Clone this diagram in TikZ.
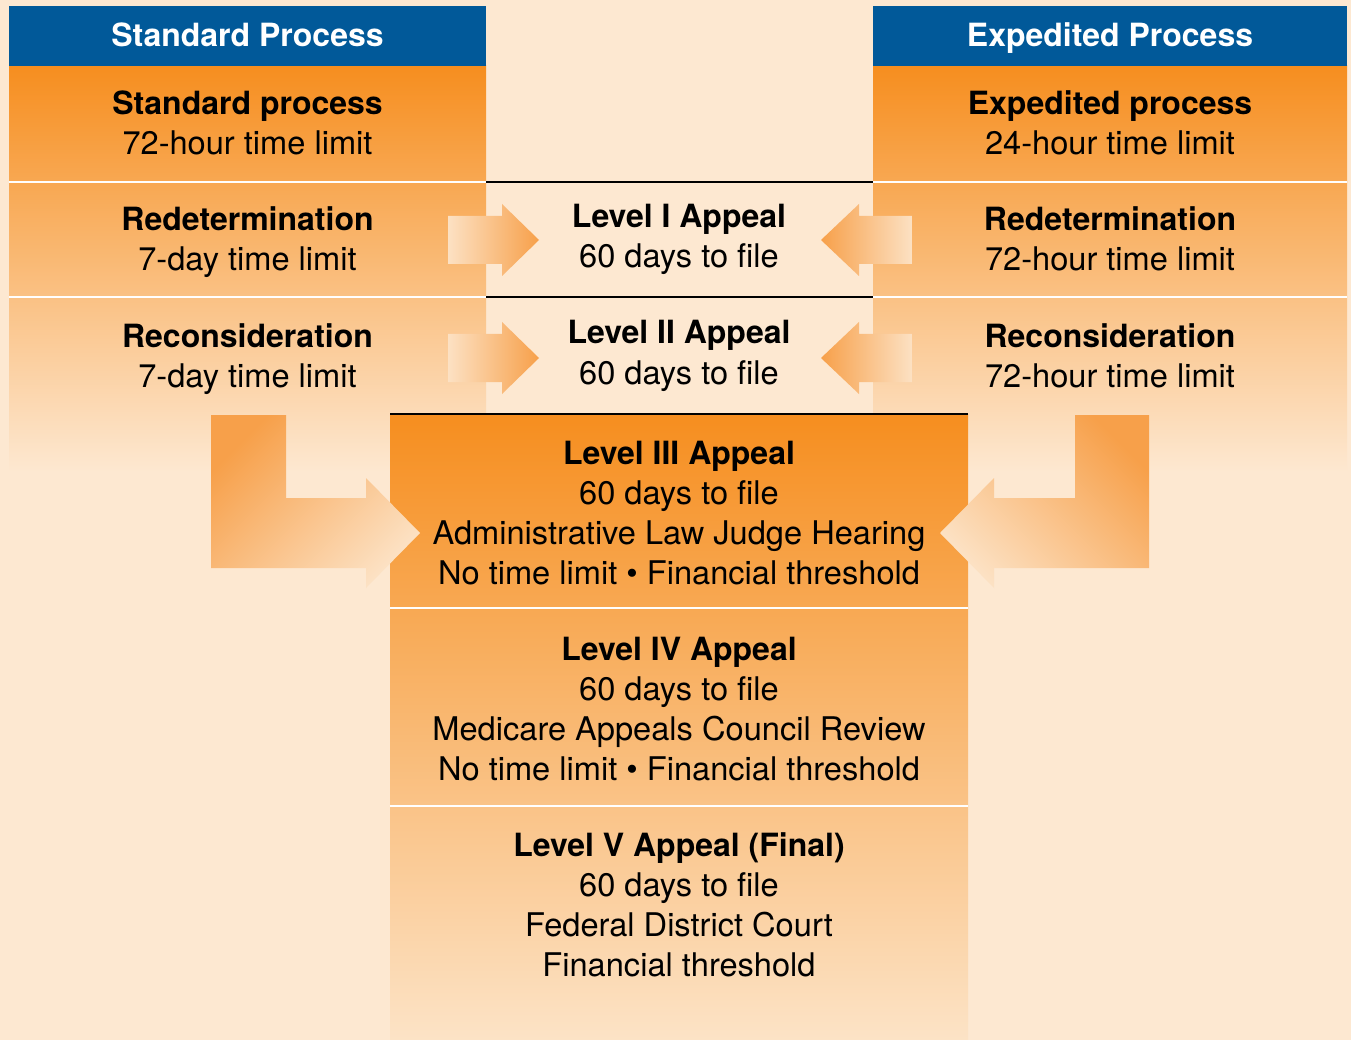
\documentclass[tikz,border=0pt]{standalone}
\usepackage{fontspec}
\setmainfont{TeX Gyre Heros}
\definecolor{bg}{RGB}{253,232,209}
\definecolor{hdrblue}{RGB}{1,89,153}
\definecolor{orangetop}{RGB}{246,142,31}
\definecolor{fadebot}{RGB}{252,227,198}
\definecolor{arrdark}{RGB}{247,160,74}
\definecolor{arrlight}{RGB}{252,225,195}
\begin{document}
\begin{tikzpicture}[x=1pt,y=-1pt,
  txt/.style={inner sep=0pt, anchor=base, font=\fontsize{32.6}{40}\selectfont},
  btxt/.style={inner sep=0pt, anchor=base, font=\fontsize{32}{40}\selectfont\bfseries},
  htxt/.style={inner sep=0pt, anchor=base, text=white, font=\fontsize{32}{40}\selectfont\bfseries},
  sepwhite/.style={draw=white, line width=2pt},
  sepblack/.style={draw=black, line width=1.4pt},
  rarrow/.style={left color=arrlight, right color=arrdark},
  larrow/.style={left color=arrdark, right color=arrlight}]
\fill[bg] (0,0) rectangle (1351,1040);
\useasboundingbox (0,0) rectangle (1351,1040);

% side columns
\shade[top color=orangetop, bottom color=bg] (9,66) rectangle (486,472);
\shade[top color=orangetop, bottom color=bg] (873,66) rectangle (1347,472);
\fill[hdrblue] (9,6) rectangle (486,66);
\fill[hdrblue] (873,6) rectangle (1347,66);
\draw[sepwhite] (9,182) -- (486,182);
\draw[sepwhite] (9,297) -- (486,297);
\draw[sepwhite] (873,182) -- (1347,182);
\draw[sepwhite] (873,297) -- (1347,297);

% center column
\shade[top color=orangetop, bottom color=fadebot] (390,414) rectangle (968,1040);
\draw[sepwhite] (390,608) -- (968,608);
\draw[sepwhite] (390,806) -- (968,806);
\draw[sepblack] (486,182) -- (873,182);
\draw[sepblack] (486,297) -- (873,297);
\draw[sepblack] (390,414) -- (968,414);

% small arrows
\shade[rarrow] (448,216) -- (502,216) -- (502,204) -- (539,240) -- (502,276) -- (502,264) -- (448,264) -- cycle;
\shade[rarrow] (448,334) -- (502,334) -- (502,322) -- (539,358) -- (502,394) -- (502,382) -- (448,382) -- cycle;
\shade[larrow] (912,216) -- (859,216) -- (859,204) -- (821,240) -- (859,276) -- (859,264) -- (912,264) -- cycle;
\shade[larrow] (912,334) -- (859,334) -- (859,322) -- (821,358) -- (859,394) -- (859,382) -- (912,382) -- cycle;

% L arrows
\shade[top color=arrdark, bottom color=arrlight, shading angle=45]
  (211,415) -- (286,415) -- (286,498) -- (366,498) -- (366,478) -- (420,533) -- (366,588) -- (366,568) -- (211,568) -- cycle;
\shade[top color=arrdark, bottom color=arrlight, shading angle=-45]
  (1149,415) -- (1075,415) -- (1075,498) -- (994,498) -- (994,478) -- (940,533) -- (994,588) -- (994,568) -- (1149,568) -- cycle;

% headers
\node[htxt] (hs) at (247.5,46.5) {Standard Process};
\node[htxt] (he) at (1110,46.5) {Expedited Process};

% left column text
\node[btxt] (s1a) at (247.5,115) {Standard process};
\node[txt]  (s1b) at (247.5,155) {72-hour time limit};
\node[btxt] (s2a) at (247.5,231) {Redetermination};
\node[txt]  (s2b) at (247.5,271) {7-day time limit};
\node[btxt] (s3a) at (247.5,347) {Reconsideration};
\node[txt]  (s3b) at (247.5,387) {7-day time limit};

% right column text
\node[btxt] (e1a) at (1110,115) {Expedited process};
\node[txt]  (e1b) at (1110,155) {24-hour time limit};
\node[btxt] (e2a) at (1110,231) {Redetermination};
\node[txt]  (e2b) at (1110,271) {72-hour time limit};
\node[btxt] (e3a) at (1110,347) {Reconsideration};
\node[txt]  (e3b) at (1110,387) {72-hour time limit};

% center text
\node[btxt] (l1a) at (679,228) {Level I Appeal};
\node[txt]  (l1b) at (679,268) {60 days to file};
\node[btxt] (l2a) at (679,344) {Level II Appeal};
\node[txt]  (l2b) at (679,384) {60 days to file};

\node[btxt] (l3a) at (679,464) {Level III Appeal};
\node[txt]  (l3b) at (679,504) {60 days to file};
\node[txt]  (l3c) at (679,544) {Administrative Law Judge Hearing};
\node[txt]  (l3d) at (679,584) {No time limit • Financial threshold};

\node[btxt] (l4a) at (679,660) {Level IV Appeal};
\node[txt]  (l4b) at (679,700) {60 days to file};
\node[txt]  (l4c) at (679,740) {Medicare Appeals Council Review};
\node[txt]  (l4d) at (679,780) {No time limit • Financial threshold};

\node[btxt] (l5a) at (679,856) {Level V Appeal (Final)};
\node[txt]  (l5b) at (679,896) {60 days to file};
\node[txt]  (l5c) at (679,936) {Federal District Court};
\node[txt]  (l5d) at (679,976) {Financial threshold};
\end{tikzpicture}
\end{document}
